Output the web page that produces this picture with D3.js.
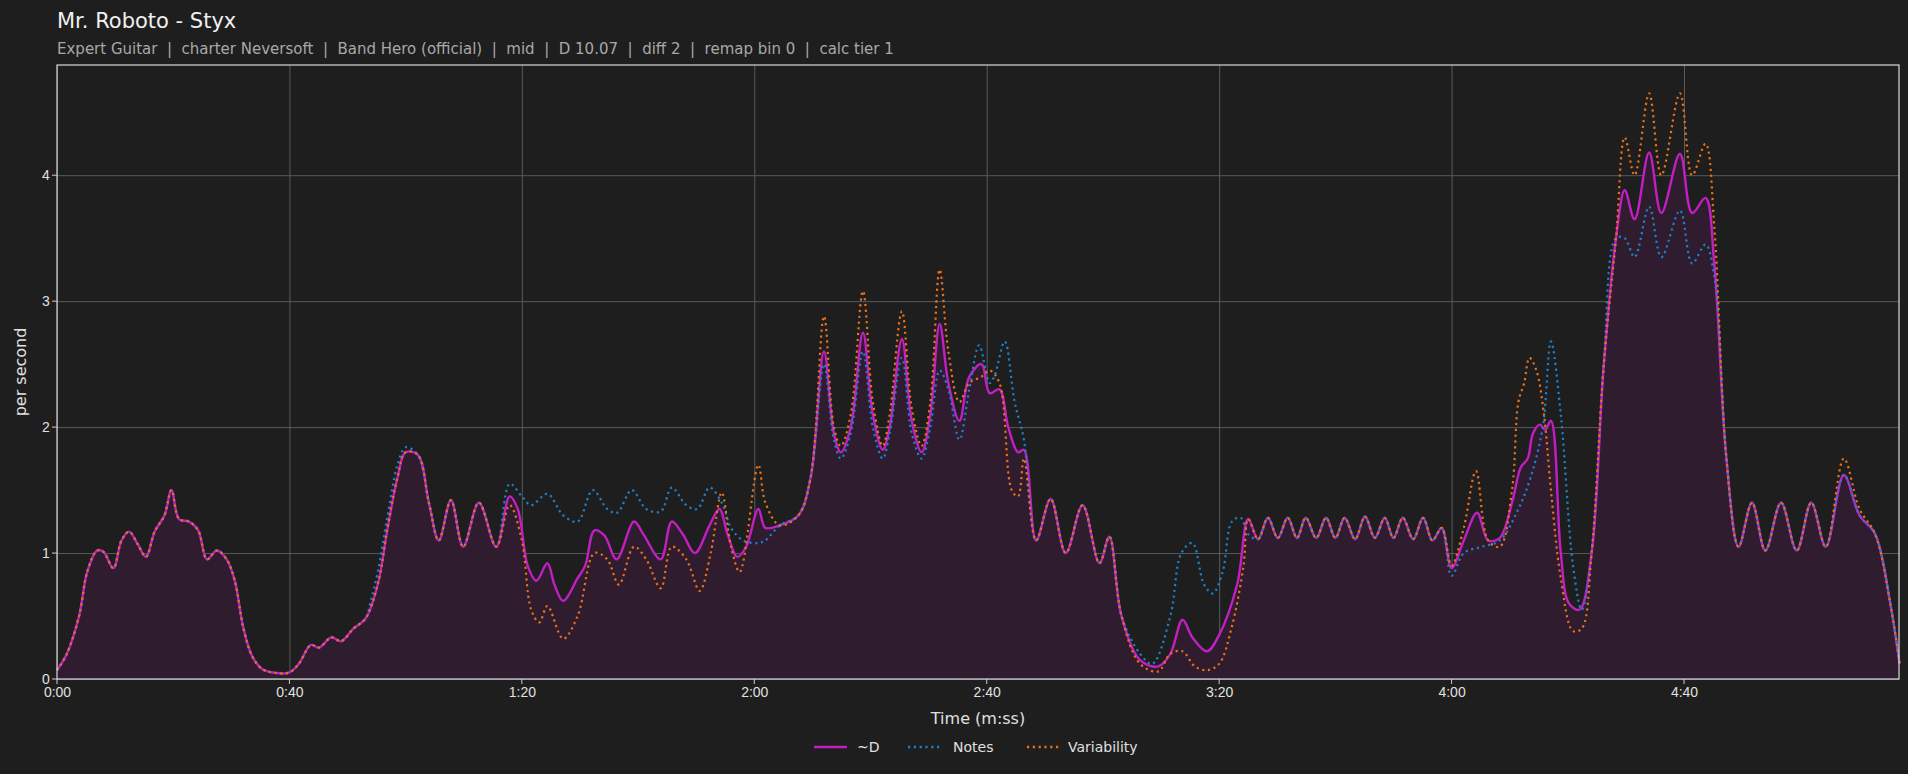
<!DOCTYPE html>
<html><head><meta charset="utf-8">
<script src="https://cdn.jsdelivr.net/npm/d3@7"></script>
<style>body{margin:0;background:#1e1e1e;}svg{display:block;font-family:"DejaVu Sans",sans-serif;}</style>
</head><body><svg id="c" width="1908" height="774"></svg>
<script>
const title = "Mr. Roboto - Styx";
const subtitle = "Expert Guitar  |  charter Neversoft  |  Band Hero (official)  |  mid  |  D 10.07  |  diff 2  |  remap bin 0  |  calc tier 1";
const xTicks = [0,40,80,120,160,200,240,280];
const yTicks = [0,1,2,3,4];
const seriesNames = ["~D","Notes","Variability"];

// ~D : [seconds, per second]
const dPts = [[0,0.07],[1.7,0.2],[3.8,0.5],[5.2,0.85],[6.9,1.02],[8,1.01],[9.7,0.88],[11.1,1.1],[12.4,1.17],[13.9,1.07],[15.3,0.97],[16.8,1.17],[18.5,1.3],[19.7,1.5],[21,1.27],[22.7,1.25],[24.3,1.18],[25.8,0.95],[27.5,1.02],[29.2,0.95],[30.6,0.78],[32.1,0.4],[33.6,0.18],[35.3,0.08],[37.4,0.05],[39.9,0.05],[41.6,0.12],[43.7,0.27],[45.1,0.25],[47.2,0.33],[48.9,0.3],[51,0.4],[53.1,0.48],[55.2,0.75],[56.9,1.2],[58.6,1.6],[60,1.8],[62.1,1.78],[64,1.4],[65.7,1.1],[67.8,1.42],[69.9,1.05],[72.6,1.4],[75.6,1.05],[77.9,1.45],[79.3,1.35],[81,0.9],[82.5,0.78],[84.4,0.92],[85.6,0.75],[87.1,0.62],[89.6,0.8],[90.9,0.9],[92.5,1.18],[94.2,1.14],[96.3,0.95],[99.3,1.25],[100.9,1.15],[103.9,0.95],[105.8,1.25],[107.7,1.15],[109.8,1.0],[112.3,1.22],[114,1.35],[115.4,1.15],[117.1,0.97],[118.6,1.05],[120.7,1.35],[121.9,1.2],[124.4,1.22],[127.6,1.3],[129.7,1.6],[132,2.6],[133.7,1.95],[134.9,1.8],[136.6,2.0],[138.7,2.75],[140.4,2.1],[142.1,1.82],[143.3,2.0],[145.4,2.7],[147.1,2.05],[148.8,1.8],[150.3,2.1],[151.9,2.82],[153.4,2.35],[155.3,2.05],[157,2.4],[159.1,2.5],[160.5,2.27],[162.2,2.3],[163.7,2.0],[165.4,1.8],[166.4,1.82],[168.5,1.1],[171,1.43],[173.6,1.0],[176.5,1.38],[179.4,0.92],[181.1,1.13],[183.2,0.5],[186.4,0.15],[189.5,0.1],[191.6,0.2],[193.7,0.47],[195.4,0.33],[197.9,0.22],[200,0.35],[203.1,0.75],[205,1.27],[206.7,1.11],[208.4,1.28],[210.1,1.12],[211.8,1.28],[213.4,1.12],[214.9,1.28],[216.7,1.12],[218.4,1.28],[220,1.12],[221.6,1.28],[223.4,1.11],[225.1,1.29],[226.8,1.12],[228.5,1.28],[230,1.12],[231.6,1.28],[233.4,1.11],[235.1,1.28],[236.7,1.1],[238.3,1.2],[240,0.88],[242.1,1.1],[244.4,1.32],[246.3,1.1],[248.3,1.12],[250.4,1.4],[251.9,1.68],[253.1,1.75],[254,1.95],[255.2,2.02],[256.1,1.98],[257.1,2.05],[258.8,1.0],[260.2,0.6],[262,0.55],[264.1,1.0],[266.2,2.5],[268.3,3.5],[269.8,3.88],[271.5,3.65],[274,4.18],[276.1,3.7],[279.3,4.17],[281.4,3.7],[283.7,3.82],[285.2,3.3],[287.3,1.75],[289.4,1.05],[291.7,1.4],[294,1.02],[296.7,1.4],[299.4,1.02],[301.9,1.4],[304.4,1.05],[307.5,1.62],[310.2,1.3],[312.9,1.15],[315.5,0.6],[317.1,0.12]];

// Notes where it departs from ~D
const notesDiff = [[54,0.62],[55.2,0.85],[56.9,1.3],[58.6,1.7],[60,1.84],
 [77.9,1.55],[80,1.45],[81.6,1.38],[84.4,1.47],[87.1,1.3],[89.6,1.25],[92.2,1.5],[94.7,1.35],[96.4,1.32],[98.9,1.5],[101.4,1.35],[103.9,1.33],[105.8,1.52],[108.3,1.38],[110.2,1.35],[112.3,1.52],[114.4,1.4],[116,1.2],[118.1,1.1],[120.7,1.08],[121.9,1.1],[124.4,1.22],
 [132,2.5],[133.7,1.9],[134.9,1.75],[136.6,1.95],[138.7,2.6],[140.4,2.0],[142.1,1.75],[143.3,1.95],[145.4,2.55],[147.1,1.95],[148.8,1.75],[150.3,2.0],[151.9,2.45],[153.4,2.3],[155.3,1.9],[157,2.3],[158.7,2.65],[160.5,2.35],[161.3,2.4],[163.1,2.68],[164.8,2.2],[166.4,1.9],
 [186.4,0.2],[188.5,0.12],[191.6,0.5],[193.5,1.0],[195.4,1.08],[197.4,0.75],[198.9,0.68],[200.6,0.85],[202.2,1.25],[203.7,1.28],[205,1.15],
 [240,0.82],[242.1,1.0],[245.2,1.05],[248.3,1.1],[251.5,1.35],[253.6,1.6],[255.7,2.0],[257.1,2.68],[258.8,2.1],[260.9,0.9],[262.4,0.55],
 [269.8,3.5],[271.5,3.35],[274,3.75],[276.1,3.35],[279.3,3.72],[281.4,3.3],[283.7,3.45],[285.2,3.2]];

// Variability where it departs from ~D
const varDiff = [[77.9,1.38],[80,1.1],[81.6,0.55],[83,0.45],[84.4,0.58],[87.1,0.32],[89.6,0.5],[92.5,1.0],[94.7,0.95],[96.7,0.75],[99.3,1.05],[101.4,0.95],[103.9,0.72],[105.8,1.05],[108.3,0.95],[110.6,0.7],[112.5,1.0],[114.4,1.48],[116,1.05],[117.5,0.85],[120.7,1.7],[121.9,1.4],[124.4,1.22],
 [132,2.88],[133.7,2.0],[134.9,1.85],[136.6,2.1],[138.7,3.08],[140.4,2.2],[142.1,1.85],[143.3,2.1],[145.4,2.92],[147.1,2.15],[148.8,1.85],[150.3,2.2],[151.9,3.25],[153.4,2.6],[155.3,2.2],[157,2.35],[159.1,2.4],[160.5,2.45],[162.2,2.35],[164.3,1.5],[165.4,1.45],[166.4,1.75],
 [186.4,0.12],[189.5,0.06],[193.7,0.22],[195.8,0.1],[197.9,0.07],[200,0.12],[202.1,0.4],[204.2,0.9],[205,1.27],
 [240,0.9],[242.1,1.2],[244.2,1.65],[246.3,1.1],[248.3,1.05],[250.4,1.5],[251.5,2.2],[252.5,2.35],[253.4,2.55],[254.6,2.45],[255.9,2.1],[257.1,1.5],[258.8,0.8],[260.9,0.38],[262.4,0.4],
 [269.8,4.3],[271.5,4.0],[274,4.65],[276.1,4.0],[279.3,4.65],[281.4,4.0],[283.7,4.25],[285.2,3.6],
 [307.5,1.75],[310.2,1.35]];

function merge(base, diff){
  const groups=[];let g=[diff[0]];
  for(let i=1;i<diff.length;i++){ if(diff[i][0]-diff[i-1][0]>4){groups.push(g);g=[diff[i]];} else g.push(diff[i]); }
  groups.push(g);
  const inG=t=>groups.some(G=>t>=G[0][0]-0.5&&t<=G[G.length-1][0]+0.5);
  return base.filter(p=>!inG(p[0])).concat(diff).sort((a,b)=>a[0]-b[0]);
}
const notesPts = merge(dPts, notesDiff);
const varPts = merge(dPts, varDiff);

const svg=d3.select("#c");
const W=1908,H=774,m={l:57,r:9,t:65,b:95};
svg.append("rect").attr("width",W).attr("height",H).attr("fill","#1e1e1e");
const x=d3.scaleLinear().domain([0,317]).range([m.l,W-m.r]);
const y=d3.scaleLinear().domain([0,4.875]).range([H-m.b,m.t]);
const fmt=s=>Math.floor(s/60)+":"+String(s%60).padStart(2,"0");

svg.append("g").attr("transform",`translate(0,${H-m.b})`)
 .call(d3.axisBottom(x).tickValues(xTicks).tickFormat(fmt).tickSize(-(H-m.b-m.t)))
 .call(g=>{g.select(".domain").remove();g.selectAll("line").attr("stroke","#5a5a5a");g.selectAll("text").attr("fill","#e0e0e0").attr("font-size",14).attr("dy","1.1em");});
svg.append("g").attr("transform",`translate(${m.l},0)`)
 .call(d3.axisLeft(y).tickValues(yTicks).tickFormat(d3.format("d")).tickSize(-(W-m.l-m.r)))
 .call(g=>{g.select(".domain").remove();g.selectAll("line").attr("stroke","#5a5a5a");g.selectAll("text").attr("fill","#e0e0e0").attr("font-size",14).attr("dx","-0.3em");});
svg.append("g").selectAll("line").data(xTicks).join("line").attr("x1",d=>x(d)).attr("x2",d=>x(d)).attr("y1",H-m.b).attr("y2",H-m.b+5).attr("stroke","#ccc");
svg.append("g").selectAll("line").data(yTicks).join("line").attr("x1",m.l-5).attr("x2",m.l).attr("y1",d=>y(d)).attr("y2",d=>y(d)).attr("stroke","#ccc");

const curve=d3.curveCatmullRom.alpha(0.5);
svg.append("path").datum(dPts).attr("fill","#2f1c2f")
 .attr("d",d3.area().x(d=>x(d[0])).y0(y(0)).y1(d=>y(d[1])).curve(curve));
const line=d3.line().x(d=>x(d[0])).y(d=>y(d[1])).curve(curve);
svg.append("path").datum(dPts).attr("fill","none").attr("stroke","#c21fc2").attr("stroke-width",2.4).attr("d",line);
svg.append("path").datum(notesPts).attr("fill","none").attr("stroke","#1f80c8").attr("stroke-width",2.2).attr("stroke-dasharray","2.2,3.6").attr("d",line);
svg.append("path").datum(varPts).attr("fill","none").attr("stroke","#e8711a").attr("stroke-width",2.2).attr("stroke-dasharray","2.2,3.6").attr("d",line);

svg.append("rect").attr("x",m.l).attr("y",m.t).attr("width",W-m.l-m.r).attr("height",H-m.b-m.t).attr("fill","none").attr("stroke","#d8d8d8").attr("stroke-width",1.2);

svg.append("text").attr("x",57).attr("y",28).attr("fill","#f0f0f0").attr("font-size",21).text(title);
svg.append("text").attr("x",57).attr("y",54).attr("fill","#a8a8a8").attr("font-size",15).attr("xml:space","preserve").text(subtitle);
svg.append("text").attr("x",(m.l+W-m.r)/2).attr("y",724).attr("text-anchor","middle").attr("fill","#e0e0e0").attr("font-size",16).text("Time (m:ss)");
svg.append("text").attr("transform",`translate(26,${(m.t+H-m.b)/2}) rotate(-90)`).attr("text-anchor","middle").attr("fill","#e0e0e0").attr("font-size",16).text("per second");

const leg=[{c:"#c21fc2",dash:null,x:814,tx:857},{c:"#1f80c8",dash:"2.2,3.6",x:908,tx:953},{c:"#e8711a",dash:"2.2,3.6",x:1027,tx:1068}];
leg.forEach((L,i)=>{
 svg.append("line").attr("x1",L.x).attr("x2",L.x+33).attr("y1",747).attr("y2",747).attr("stroke",L.c).attr("stroke-width",2.4).attr("stroke-dasharray",L.dash);
 svg.append("text").attr("x",L.tx).attr("y",752).attr("fill","#e0e0e0").attr("font-size",14).text(seriesNames[i]);
});
</script></body></html>
